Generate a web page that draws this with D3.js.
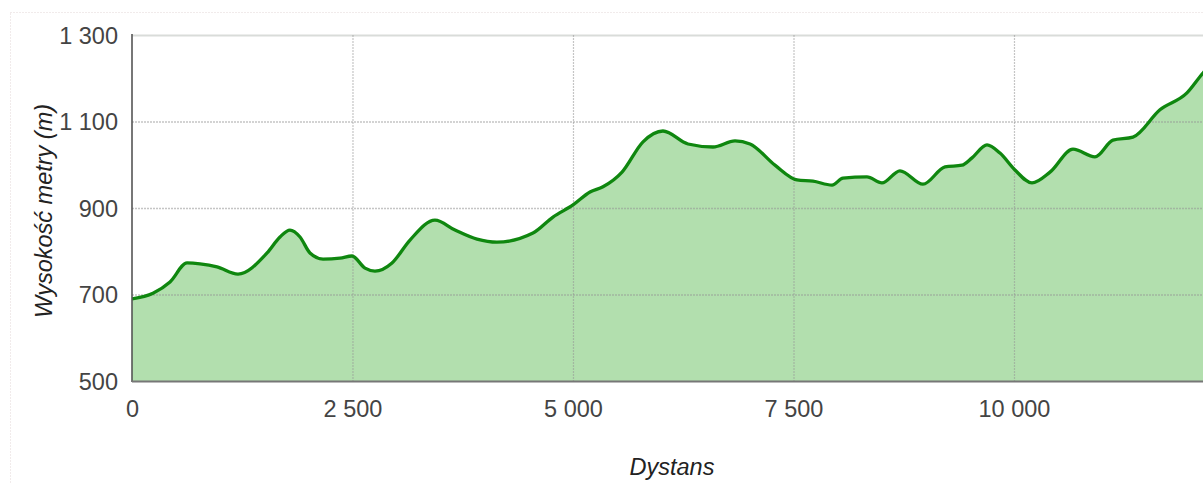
<!DOCTYPE html>
<html>
<head>
<meta charset="utf-8">
<script src="https://cdn.jsdelivr.net/npm/d3@7"></script>
<style>
  html, body { margin: 0; padding: 0; background: #fff; }
  svg { display: block; }
  text { font-family: "Liberation Sans", Arial, sans-serif; }
</style>
</head>
<body>
<svg id="chart" width="1203" height="484"></svg>
<script>
// Distance (m) along the route
const distance = [0, 238, 431, 624, 771, 964, 1202, 1531, 1678, 1791, 1905, 2018, 2166, 2358, 2494,
  2642, 2755, 2948, 3152, 3435, 3662, 3912, 4138, 4546, 4773, 5000, 5193, 5340, 5556, 5794,
  6020, 6304, 6587, 6837, 7007, 7290, 7540, 7721, 7937, 8061, 8333, 8503, 8707, 8968, 9218,
  9410, 9524, 9694, 9841, 10011, 10204, 10408, 10669, 10918, 11122, 11349, 11655, 11961, 12143, 12250];
// Elevation (m)
const elevation = [690, 703, 729, 773, 771, 764, 747, 796, 833, 849, 833, 796, 782, 784, 789,
  761, 754, 773, 826, 872, 849, 828, 821, 842, 879, 907, 937, 949, 983, 1053,
  1078, 1048, 1041, 1055, 1048, 999, 965, 962, 953, 969, 972, 958, 986, 955, 995,
  999, 1016, 1046, 1027, 988, 958, 983, 1036, 1018, 1057, 1064, 1127, 1166, 1212, 1235];
const xTicks = [0, 2500, 5000, 7500, 10000];
const yTicks = [500, 700, 900, 1100, 1300];
const xTitle = "Dystans";
const yTitle = "Wysokość metry (m)";

const data = distance.map((d, i) => ({ x: d, y: elevation[i] }));

const svg = d3.select("#chart");
const pLeft = 132, pRight = 1203, pTop = 35, pBottom = 381;
const fontSize = 23.5;

const x = d3.scaleLinear().domain([0, 12143]).range([pLeft, pRight]);
const y = d3.scaleLinear().domain([500, 1300]).range([pBottom, pTop]);

const loc = d3.formatLocale({ decimal: ",", thousands: " ", grouping: [3], currency: ["", ""] });
const fmt = loc.format(",d");

// outer dotted border
svg.append("rect")
  .attr("x", 10.5).attr("y", 12.5).attr("width", 1250).attr("height", 500)
  .attr("fill", "none").attr("stroke", "#e2d6d6").attr("stroke-width", 1)
  .attr("stroke-dasharray", "1,2");

svg.append("clipPath").attr("id", "clip")
  .append("rect").attr("x", pLeft).attr("y", pTop - 5).attr("width", pRight - pLeft).attr("height", pBottom - pTop + 5);

const g = svg.append("g");

// area fill
const area = d3.area().x(d => x(d.x)).y0(y(500)).y1(d => y(d.y)).curve(d3.curveMonotoneX);
g.append("path").datum(data).attr("clip-path", "url(#clip)")
  .attr("d", area).attr("fill", "#b2dfae");

// grid lines
g.selectAll(".hgrid").data(yTicks.filter(v => v !== 500)).join("line")
  .attr("x1", pLeft).attr("x2", pRight)
  .attr("y1", d => y(d) + 0.5).attr("y2", d => y(d) + 0.5)
  .attr("stroke", d => d === 1300 ? "#d9dcd9" : "rgba(150,150,150,0.55)")
  .attr("stroke-width", d => d === 1300 ? 2 : 1.3)
  .attr("stroke-dasharray", d => d === 1300 ? null : "2,1");

g.selectAll(".vgrid").data(xTicks.filter(v => v !== 0)).join("line")
  .attr("x1", d => x(d) + 0.5).attr("x2", d => x(d) + 0.5)
  .attr("y1", pTop).attr("y2", pBottom)
  .attr("stroke", "rgba(150,150,150,0.55)").attr("stroke-width", 1.2)
  .attr("stroke-dasharray", "2,1");

// elevation line
const line = d3.line().x(d => x(d.x)).y(d => y(d.y)).curve(d3.curveMonotoneX);
g.append("path").datum(data).attr("clip-path", "url(#clip)")
  .attr("d", line).attr("fill", "none").attr("stroke", "#0f870f")
  .attr("stroke-width", 3.3).attr("stroke-linejoin", "round");

// axes lines
svg.append("line").attr("x1", pLeft).attr("x2", pLeft).attr("y1", pTop - 1).attr("y2", pBottom + 1)
  .attr("stroke", "#555").attr("stroke-width", 1.6);
svg.append("line").attr("x1", pLeft).attr("x2", pRight).attr("y1", pBottom + 0.5).attr("y2", pBottom + 0.5)
  .attr("stroke", "#777").attr("stroke-width", 2);

// tick labels
const xAxis = d3.axisBottom(x).tickValues(xTicks).tickFormat(fmt).tickSize(0).tickPadding(0);
const gx = svg.append("g").attr("transform", `translate(0,${pBottom})`).call(xAxis);
gx.select(".domain").remove();
gx.selectAll("text").attr("y", 36).attr("dy", null)
  .attr("font-size", fontSize).attr("fill", "#444")
  .attr("font-family", "Liberation Sans, Arial, sans-serif");

const yAxis = d3.axisLeft(y).tickValues(yTicks).tickFormat(fmt).tickSize(0).tickPadding(0);
const gy = svg.append("g").attr("transform", `translate(${118},0)`).call(yAxis);
gy.select(".domain").remove();
gy.selectAll("text").attr("x", 0).attr("dy", "0.36em")
  .attr("font-size", fontSize).attr("fill", "#444")
  .attr("font-family", "Liberation Sans, Arial, sans-serif");

// axis titles
svg.append("text").attr("x", 672).attr("y", 475).attr("text-anchor", "middle")
  .attr("font-size", fontSize).attr("font-style", "italic").attr("fill", "#222").text(xTitle);
svg.append("text").attr("transform", "translate(52,211) rotate(-90)").attr("text-anchor", "middle")
  .attr("font-size", fontSize).attr("font-style", "italic").attr("fill", "#222").text(yTitle);
</script>
</body>
</html>
